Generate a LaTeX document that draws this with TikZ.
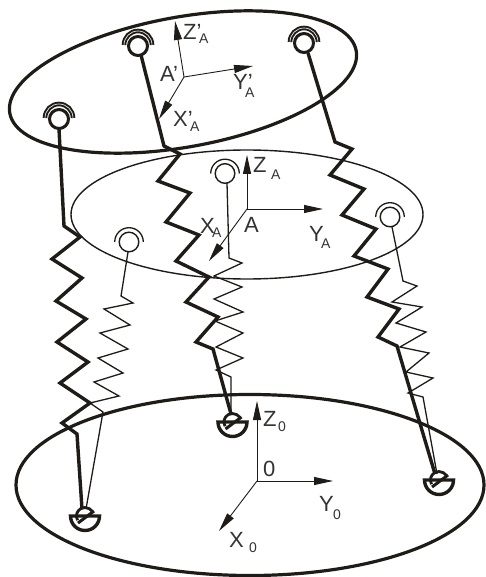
\documentclass[tikz,border=0pt]{standalone}
\usepackage{fontspec}
\setmainfont{Liberation Sans}
\usetikzlibrary{arrows.meta}
\definecolor{ink}{HTML}{1F1C18}
\definecolor{lab}{HTML}{333333}
\tikzset{
  thickleg/.style={ink,line width=3.4pt,line join=miter},
  thinleg/.style={ink,line width=1.3pt,line join=miter},
  axis/.style={ink,line width=0.9pt,-{Triangle[length=19pt,width=8pt]}},
  lbl/.style={lab,font=\fontsize{22}{22}\selectfont,inner sep=0pt,anchor=base west},
}
\newcommand{\labl}[4]{#1\kern#2pt\raisebox{-#3pt}{\fontsize{14}{14}\selectfont #4}}
\newcommand{\topjoint}[3]{%
  \coordinate (#3) at (#1,#2);
  \draw[ink,line width=3pt] (#3) circle (9.5);
  \draw[ink,line width=4.6pt] ([shift={(-14,-1)}]#3) arc (180:360:14);
  \draw[white,line width=0.6pt] ([shift={(-14,-1)}]#3) arc (180:360:14);
}
\newcommand{\midjoint}[3]{%
  \coordinate (#3) at (#1,#2);
  \draw[ink,line width=1.4pt] (#3) circle (9.8);
  \draw[ink,line width=1.3pt] ([shift={(-14.3,0)}]#3) arc (180:360:14.3);
}
\newcommand{\basejoint}[3]{%
  \coordinate (#3) at (#1,#2);
  \draw[ink,line width=3.4pt] ([shift={(-14.5,0)}]#3) -- ([shift={(14.5,0)}]#3) arc (0:180:14.5) -- cycle;
  \draw[ink,line width=2.8pt] ([shift={(-7.4,4.25)}]#3) arc (150:340:8.5);
  \draw[ink,line width=3pt] ([shift={(-7,7)}]#3) -- ([shift={(9,-5)}]#3);
}
\begin{document}
\begin{tikzpicture}[x=1pt,y=-1pt]
\useasboundingbox (0,0) rectangle (486,577);
% plates
\draw[ink,line width=3.2pt] (183,82) ellipse[x radius=176,y radius=65,rotate=10.2];
\draw[ink,line width=1.4pt] (247,214.5) ellipse[x radius=176,y radius=64.5];
\draw[ink,line width=3.2pt] (250,485) ellipse[x radius=234,y radius=90.5];
% joints
\topjoint{138}{46}{ja}
\topjoint{59}{119}{jb}
\topjoint{304}{43}{jc}
\midjoint{225}{173.5}{ma}
\midjoint{129}{242}{mb}
\midjoint{390}{217}{mc}
\basejoint{85}{516}{ba}
\basejoint{232.5}{422}{bb}
\basejoint{439}{480}{bc}
% leg ends
\coordinate (eaa) at (231,414);
\coordinate (eab) at (82,509);
\coordinate (eac) at (435,474);
\coordinate (eba) at (231,414);
\coordinate (ebb) at (86,509);
\coordinate (ebc) at (437,474);
% thick legs
\draw[thickleg] (ja) ++(3,9) -- (164,146) -- (180,154) -- (158,181) -- (190,193) -- (166,222) -- (199,235) -- (176,261) -- (209,277) -- (186,302) -- (218,317) -- (196,342) -- (213,349) -- (eaa);
\draw[thickleg] (jb) ++(0,10) -- (64,226) -- (80,237) -- (52,259) -- (82,278) -- (56,301) -- (86,319) -- (57,342) -- (88,362) -- (60,383) -- (90,403) -- (62,423) -- (77,434) -- (eab);
\draw[thickleg] (jc) ++(4,10) -- (335,142) -- (352,149) -- (330,175) -- (364,189) -- (342,215) -- (376,229) -- (354,256) -- (388,269) -- (367,297) -- (399,309) -- (378,337) -- (397,346) -- (eac);
% thin legs
\draw[thinleg] (ma) ++(2,9.5) -- (229,258) -- (242,263) -- (214,276) -- (242,287) -- (214,299) -- (243,312) -- (215,321) -- (243,333) -- (216,347) -- (243,358) -- (216,370) -- (231,377) -- (eba);
\draw[thinleg] (mb) ++(-1,10) -- (121,296) -- (133,303) -- (104,309) -- (130,325) -- (100,333) -- (128,349) -- (98,358) -- (123,373) -- (94,382) -- (119,396) -- (90,403) -- (103,412) -- (ebb);
\draw[thinleg] (mc) ++(2,10) -- (403,281) -- (417,286) -- (392,302) -- (422,307) -- (396,323) -- (426,332) -- (400,347) -- (429,353) -- (406,372) -- (433,378) -- (408,393) -- (423,397) -- (ebc);
% axes A'
\coordinate (oa) at (184,77);
\draw[axis] (oa) -- (175,21);
\draw[axis] (oa) -- (253,66);
\draw[axis] (oa) -- (159,119);
\node[lbl] (tz1) at (183,40) {\labl{Z’}{-2.3}{4}{A}};
\node[lbl] (ty1) at (233,90) {\labl{Y’}{-7.6}{8}{A}};
\node[lbl] (tx1) at (173,127) {\labl{X’}{-2.6}{5}{A}};
\node[lbl] (ta1) at (160,82) {A’};
% axes A
\coordinate (ob) at (247,209);
\draw[axis] (ob) -- (247,155);
\draw[axis] (ob) -- (323,209);
\draw[axis] (ob) -- (209,261);
\node[lbl] (tz2) at (253,173) {\labl{Z}{4.6}{7}{A}};
\node[lbl] (ty2) at (309,241) {\labl{Y}{-2.7}{7}{A}};
\node[lbl] (tx2) at (200,233) {\labl{X}{-2.7}{4}{A}};
\node[lbl] (ta2) at (244,232) {A};
% axes 0
\coordinate (oc) at (257,481);
\draw[axis] (oc) -- (257,401);
\draw[axis] (oc) -- (333,481);
\draw[axis] (oc) -- (219,531);
\node[lbl] (tz3) at (263,426) {\labl{Z}{1.6}{5}{0}};
\node[lbl] (tzero) at (263,476) {0};
\node[lbl] (ty3) at (319,511) {\labl{Y}{-0.7}{8}{0}};
\node[lbl] (tx3) at (229,547) {\labl{X}{5.3}{5}{0}};
\end{tikzpicture}
\end{document}
